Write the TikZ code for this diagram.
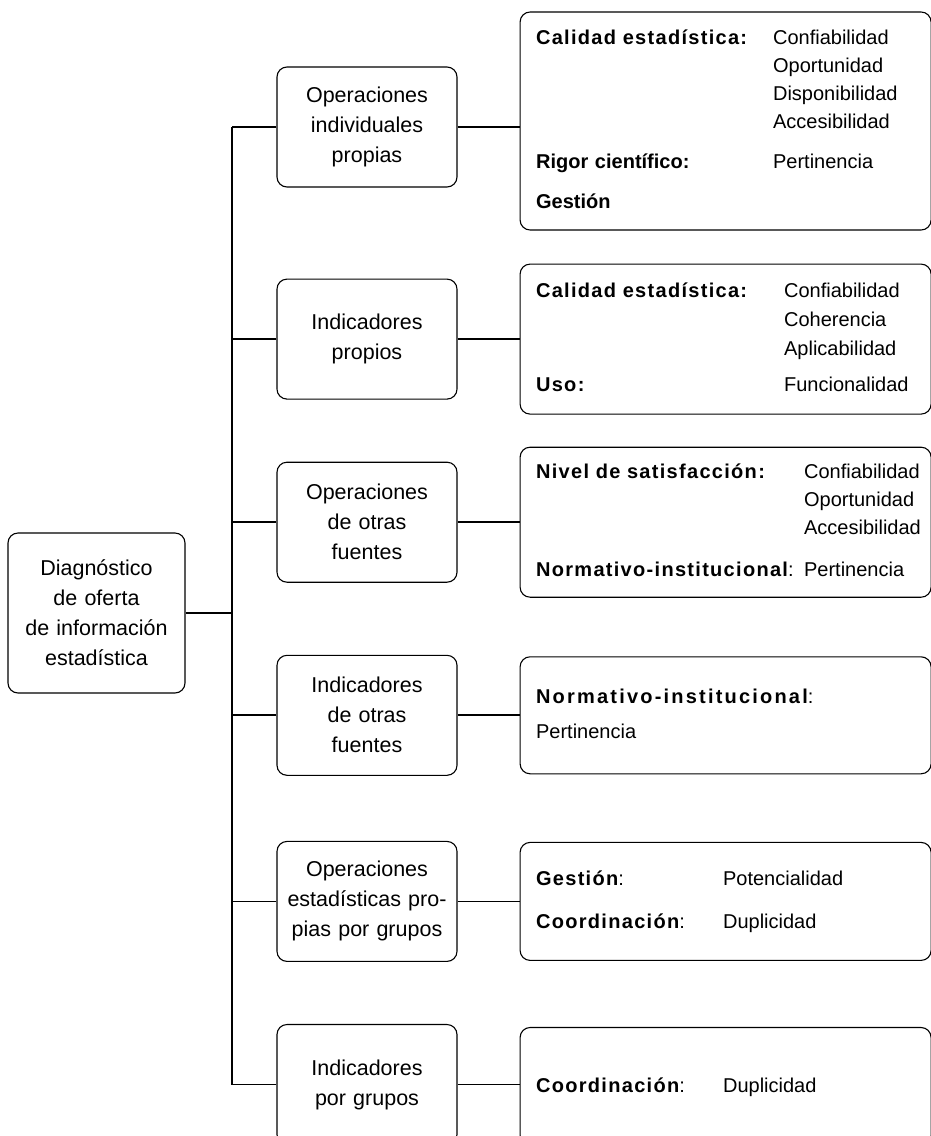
\documentclass[tikz,border=0pt]{standalone}
\usepackage{fontspec}
\setmainfont{Liberation Sans}
\newfontface\lsbold[LetterSpace=6.5,WordSpace=2.2]{Liberation Sans Bold}
\newfontface\lswide[LetterSpace=11.0,WordSpace=2.2]{Liberation Sans Bold}
\usetikzlibrary{positioning}

\begin{document}
\begin{tikzpicture}[x=1pt,y=-1pt,
block/.style={rectangle,draw,line width=1.1pt,rounded corners=10pt,text width=170pt,align=center,minimum width=180pt,minimum height=120pt,inner sep=0pt,font=\fontsize{21.5}{30}\selectfont},
root/.style={block,minimum width=177pt,minimum height=160pt},
detail/.style={rectangle,draw,line width=1.1pt,rounded corners=10pt,text width=379pt,align=left,inner xsep=16pt,inner ysep=0pt,font=\fontsize{20}{28}\selectfont,node distance=62pt},
line/.style={draw,line width=1.8pt}]
\useasboundingbox (0,0) rectangle (931,1136);

\node [root] (diag) at (96.5,613) {Diagnóstico\\de oferta\\de información\\estadística};

\node [block] (opi) at (367,127) {Operaciones\\individuales\\propias};
\node [block, below=91pt of opi] (inp) {Indicadores\\propios};
\node [block, below=62pt of inp] (opo) {Operaciones\\de otras\\fuentes};
\node [block, below=72pt of opo] (ino) {Indicadores\\de otras\\fuentes};
\node [block, below=65pt of ino] (opg) {Operaciones\\estadísticas pro-\\pias por grupos};
\node [block, below=62pt of opg] (ing) {Indicadores\\por grupos};

\node [detail, right=of opi, minimum height=218pt, yshift=6pt] (opir) {%
\begin{tabular}{@{}p{237pt}@{}l@{}}
\lsbold Calidad estadística: & Confiabilidad\\
 & Oportunidad\\
 & Disponibilidad\\
 & Accesibilidad\\[12pt]
\textbf{Rigor científico:} & Pertinencia\\[12pt]
\textbf{Gestión} & \\
\end{tabular}};
\node [detail, right=of inp, minimum height=150pt] (inpr) {%
\begin{tabular}{@{}p{248pt}@{}l@{}}
\lsbold Calidad estadística: & Confiabilidad\\[1pt]
 & Coherencia\\[1pt]
 & Aplicabilidad\\[8pt]
\lsbold Uso: & Funcionalidad\\
\end{tabular}};
\node [detail, right=of opo, minimum height=150pt] (opor) {%
\begin{tabular}{@{}p{268pt}@{}l@{}}
\lsbold Nivel de satisfacción: & Confiabilidad\\
 & Oportunidad\\
 & Accesibilidad\\[14pt]
{\lsbold Normativo-institucional}: & Pertinencia\\
\end{tabular}};
\node [detail, right=of ino, minimum height=117pt] (inor) {%
\begin{tabular}{@{}l@{}}
{\lswide Normativo-institucional}:\\[7pt]
Pertinencia\\
\end{tabular}};
\node [detail, right=of opg, minimum height=118pt] (opgr) {%
\begin{tabular}{@{}p{187pt}@{}l@{}}
{\lsbold Gestión}: & Potencialidad\\[15pt]
{\lsbold Coordinación}: & Duplicidad\\
\end{tabular}};
\node [detail, right=of ing, minimum height=118pt, yshift=-2pt] (ingr) {%
\begin{tabular}{@{}p{187pt}@{}l@{}}
{\lsbold Coordinación}: & Duplicidad\\
\end{tabular}};

% tree lines
\coordinate (spine) at (232,0);
\path [line] (diag.east) -- (diag.east -| spine);
\path [line] (opi.west -| spine) -- (ing.west -| spine);

\path [line] (opi.west) -- (opi.west -| spine);
\path [line] (inp.west) -- (inp.west -| spine);
\path [line] (opo.west) -- (opo.west -| spine);
\path [line] (ino.west) -- (ino.west -| spine);
\path [line] (opg.west) -- (opg.west -| spine);
\path [line] (ing.west) -- (ing.west -| spine);

\path [line] (opi.east) -- (opi.east -| opir.west);
\path [line] (inp.east) -- (inp.east -| inpr.west);
\path [line] (opo.east) -- (opo.east -| opor.west);
\path [line] (ino.east) -- (ino.east -| inor.west);
\path [line] (opg.east) -- (opg.east -| opgr.west);
\path [line] (ing.east) -- (ing.east -| ingr.west);
\end{tikzpicture}
\end{document}
